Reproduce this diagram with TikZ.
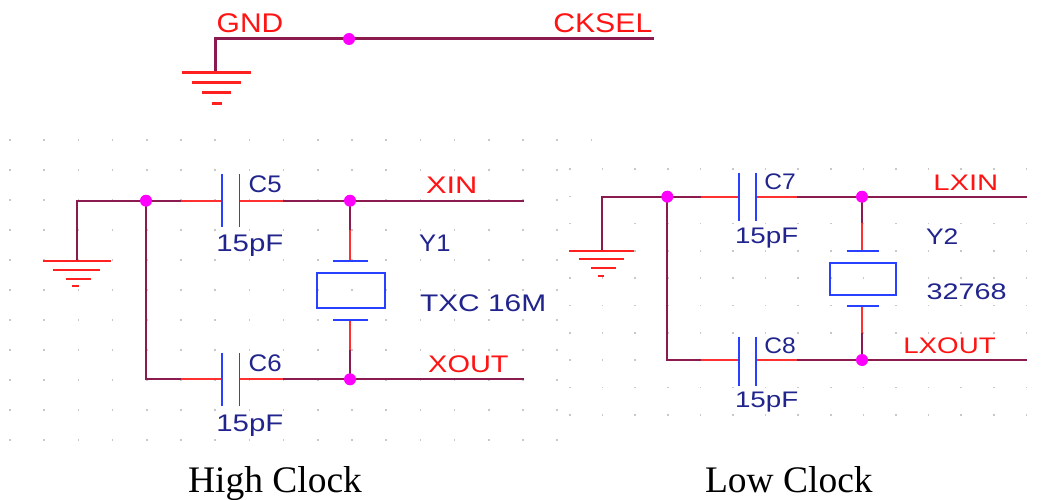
\documentclass[tikz,border=0pt]{standalone}
\usepackage{fontspec}
\setmainfont{Liberation Serif}
\newfontfamily\schfont{Liberation Sans}
\usepackage{graphicx}
\usetikzlibrary{calc}
\definecolor{wirec}{RGB}{139,26,79}
\definecolor{pinred}{RGB}{255,48,48}
\definecolor{gndred}{RGB}{255,32,32}
\definecolor{txtred}{RGB}{255,20,20}
\definecolor{plateblue}{RGB}{40,64,255}
\definecolor{navy}{RGB}{32,36,140}
\definecolor{gridc}{RGB}{200,200,200}
\definecolor{juncc}{RGB}{255,0,255}
\newcommand\fitw[2]{\resizebox{#1pt}{\height}{#2}}
\begin{document}
\begin{tikzpicture}[x=1pt,y=-1pt,
  wire/.style={draw=wirec, line width=2.2pt},
  topwire/.style={draw=wirec, line width=3pt},
  pin/.style={draw=pinred, line width=2.2pt},
  plate/.style={draw=plateblue, line width=1.8pt},
  gnd/.style={draw=gndred, line width=2.2pt},
  topgnd/.style={draw=gndred, line width=3pt},
  junc/.style={circle, fill=juncc, inner sep=0pt, minimum size=12pt},
  xtal/.style={draw=plateblue, line width=2pt, inner sep=0pt, minimum width=68pt, minimum height=35pt},
  lbl/.style={anchor=base west, inner sep=0pt, outer sep=0pt},
  sl/.style={lbl, text=navy, font=\schfont\fontsize{24}{24}\selectfont},
  sr/.style={lbl, text=navy, font=\schfont\fontsize{22.5}{22.5}\selectfont},
  rl/.style={lbl, text=txtred, font=\schfont\fontsize{24}{24}\selectfont},
  rr/.style={lbl, text=txtred, font=\schfont\fontsize{22.5}{22.5}\selectfont},
  captxt/.style={lbl, text=black, font=\fontsize{37.5}{37.5}\selectfont}]
\useasboundingbox (0,0) rectangle (1057,500);
\fill[white] (0,0) rectangle (1057,500);

% ---------- grid dots ----------
\foreach \i in {0,...,17} {\fill[gridc] ({10+34.2*\i-0.8},139.2) rectangle ++(1.6,1.6);}
\foreach \j in {1,...,10} {\foreach \i in {0,...,16} {\fill[gridc] ({10+34.2*\i-0.8},{140+30*\j-0.8}) rectangle ++(1.6,1.6);}}
\foreach \j in {0,...,9} {\foreach \i in {0,...,14} {\fill[gridc] ({570+32.6*\i-0.8},{169+27.3*\j-0.8}) rectangle ++(1.6,1.6);}}

% ---------- top: GND / CKSEL ----------
\coordinate (tg) at (215.7,39);
\coordinate (tgb) at (215.7,72.3);
\coordinate (tj) at (349,39);
\coordinate (tck) at (654,39);
\draw[topwire] (tgb) -- (tg) -- (tck);
\draw[topgnd] (181.7,72.3) -- (251,72.3);
\draw[topgnd] (191.7,82.3) -- (241,82.3);
\draw[topgnd] (201.7,93) -- (231,93);
\draw[topgnd] (211.7,103.3) -- (221.7,103.3);
\node[junc] (tjd) at (tj) {};
\node[lbl, text=txtred, font=\schfont\fontsize{27}{27}\selectfont] (gndl) at (216.7,32.7) {\fitw{66.6}{GND}};
\node[lbl, text=txtred, font=\schfont\fontsize{27}{27}\selectfont] (ckl) at (553.3,32.7) {\fitw{99}{CKSEL}};

% ---------- High clock ----------
\coordinate (hg) at (76.7,200.7);
\coordinate (hgb) at (76.7,260.7);
\coordinate (hj1) at (146,200.7);
\coordinate (hb1) at (146,379.3);
\coordinate (hj2) at (350,200.7);
\coordinate (hj3) at (350,379.3);
\coordinate (c5a) at (181.3,200.7);
\coordinate (c5p) at (221.8,200.7);
\coordinate (c5q) at (239.4,200.7);
\coordinate (c5b) at (282.5,200.7);
\coordinate (xin) at (524,200.7);
\coordinate (c6a) at (181.3,379.3);
\coordinate (c6p) at (221.8,379.3);
\coordinate (c6q) at (239.4,379.3);
\coordinate (c6b) at (282.5,379.3);
\coordinate (xout) at (524,379.3);
\coordinate (y1t) at (350,230);
\coordinate (y1tp) at (350,260.7);
\coordinate (y1bp) at (350,320.3);
\coordinate (y1b) at (350,350);

\draw[wire] (hgb) -- (hg) -- (c5a);
\draw[pin] (c5a) -- (c5p);
\draw[pin] (c5q) -- (c5b);
\draw[wire] (c5b) -- (xin);
\draw[wire] (hj1) -- (hb1) -- (c6a);
\draw[pin] (c6a) -- (c6p);
\draw[pin] (c6q) -- (c6b);
\draw[wire] (c6b) -- (xout);
\draw[plate] ($(c5p)+(0,-26.5)$) -- ($(c5p)+(0,26.5)$);
\draw[plate] ($(c5q)+(0,-26.5)$) -- ($(c5q)+(0,26.5)$);
\draw[plate] ($(c6p)+(0,-26.5)$) -- ($(c6p)+(0,26.5)$);
\draw[plate] ($(c6q)+(0,-26.5)$) -- ($(c6q)+(0,26.5)$);
\draw[wire] (hj2) -- (y1t);
\draw[pin] (y1t) -- (y1tp);
\draw[pin] (y1bp) -- (y1b);
\draw[wire] (y1b) -- (hj3);
\draw[plate] ($(y1tp)+(-17,0)$) -- ($(y1tp)+(18,0)$);
\draw[plate] ($(y1bp)+(-17,0)$) -- ($(y1bp)+(18,0)$);
\node[xtal] (y1) at (350.8,290.2) {};
\draw[gnd] (42.7,260.7) -- (110.7,260.7);
\draw[gnd] (53.3,270) -- (100,270);
\draw[gnd] (65.7,279) -- (91,279);
\draw[gnd] (72,286.3) -- (79.3,286.3);
\node[junc] (hj1d) at (hj1) {};
\node[junc] (hj2d) at (hj2) {};
\node[junc] (hj3d) at (hj3) {};

\node[sl] (c5l) at (248.7,192.3) {\fitw{33}{C5}};
\node[sl] (c5v) at (216.4,251.7) {\fitw{67}{15pF}};
\node[sl] (c6l) at (248.7,371.7) {\fitw{33}{C6}};
\node[sl] (c6v) at (216.4,431.7) {\fitw{67}{15pF}};
\node[sl] (y1l) at (419.2,251.7) {\fitw{31.3}{Y1}};
\node[sl] (y1v) at (420,311.7) {\fitw{126.3}{TXC 16M}};
\node[rl] (xinl) at (426,193.3) {\fitw{51.4}{XIN}};
\node[rl] (xoutl) at (428.2,372.3) {\fitw{80.4}{XOUT}};

% ---------- Low clock ----------
\coordinate (lg) at (601.7,196.7);
\coordinate (lgb) at (601.7,251);
\coordinate (lj1) at (667.3,196.7);
\coordinate (lb1) at (667.3,360);
\coordinate (lj2) at (862,196.7);
\coordinate (lj3) at (862,360);
\coordinate (c7a) at (700.7,196.7);
\coordinate (c7p) at (739.3,196.7);
\coordinate (c7q) at (755.7,196.7);
\coordinate (c7b) at (796.7,196.7);
\coordinate (lxin) at (1026.7,196.7);
\coordinate (c8a) at (700.7,360);
\coordinate (c8p) at (739.3,360);
\coordinate (c8q) at (755.7,360);
\coordinate (c8b) at (796.7,360);
\coordinate (lxout) at (1026.7,360);
\coordinate (y2t) at (862,223.3);
\coordinate (y2tp) at (862,251);
\coordinate (y2bp) at (862,305.7);
\coordinate (y2b) at (862,332.7);

\draw[wire] (lgb) -- (lg) -- (c7a);
\draw[pin] (c7a) -- (c7p);
\draw[pin] (c7q) -- (c7b);
\draw[wire] (c7b) -- (lxin);
\draw[wire] (lj1) -- (lb1) -- (c8a);
\draw[pin] (c8a) -- (c8p);
\draw[pin] (c8q) -- (c8b);
\draw[wire] (c8b) -- (lxout);
\draw[plate] ($(c7p)+(0,-24)$) -- ($(c7p)+(0,24)$);
\draw[plate] ($(c7q)+(0,-24)$) -- ($(c7q)+(0,24)$);
\draw[plate] ($(c8p)+(0,-23)$) -- ($(c8p)+(0,26)$);
\draw[plate] ($(c8q)+(0,-23)$) -- ($(c8q)+(0,26)$);
\draw[wire] (lj2) -- (y2t);
\draw[pin] (y2t) -- (y2tp);
\draw[pin] (y2bp) -- (y2b);
\draw[wire] (y2b) -- (lj3);
\draw[plate] ($(y2tp)+(-15.3,0)$) -- ($(y2tp)+(17.3,0)$);
\draw[plate] ($(y2bp)+(-15.3,0)$) -- ($(y2bp)+(17.3,0)$);
\node[xtal, minimum width=65.7pt, minimum height=32.3pt] (y2) at (862.8,278.8) {};
\draw[gnd] (569.3,251) -- (634,251);
\draw[gnd] (579.3,259.3) -- (624,259.3);
\draw[gnd] (590.7,267.7) -- (615.7,267.7);
\draw[gnd] (597.7,276) -- (604,276);
\node[junc] (lj1d) at (lj1) {};
\node[junc] (lj2d) at (lj2) {};
\node[junc] (lj3d) at (lj3) {};

\node[sr] (c7l) at (764.3,189) {\fitw{31.4}{C7}};
\node[sr] (c7v) at (735,243.3) {\fitw{63.3}{15pF}};
\node[sr] (c8l) at (764.3,353.3) {\fitw{31.4}{C8}};
\node[sr] (c8v) at (735,407.7) {\fitw{63.3}{15pF}};
\node[sr] (y2l) at (926,244) {\fitw{32.3}{Y2}};
\node[sr] (y2v) at (926.7,299) {\fitw{80}{32768}};
\node[rr] (lxinl) at (933.3,190.7) {\fitw{65}{LXIN}};
\node[rr] (lxoutl) at (903.3,353.3) {\fitw{92.4}{LXOUT}};

% ---------- captions ----------
\node[captxt] (hc) at (188,492) {High Clock};
\node[captxt] (lc) at (705,492) {Low Clock};
\end{tikzpicture}
\end{document}
